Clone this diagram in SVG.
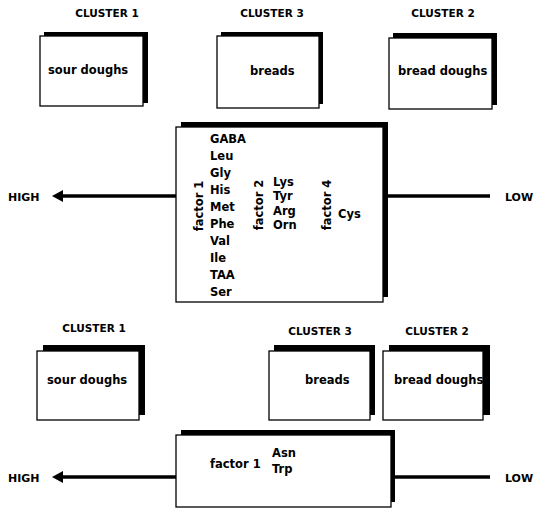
<svg xmlns="http://www.w3.org/2000/svg" width="540" height="509" viewBox="0 0 540 509">
<style>
text{font-family:"DejaVu Sans","Liberation Sans",sans-serif;font-weight:bold;fill:#000}
.cl{font-size:10.5px;text-anchor:middle}
.lb{font-size:11.5px}
.aa{font-size:11.5px}
.sh{fill:#000}
.fr{fill:#fff;stroke:#000;stroke-width:1.3}
.ln{stroke:#000;stroke-width:3.5;fill:none}
</style>
<defs>
<marker id="ah" markerWidth="10" markerHeight="10" refX="1" refY="5" orient="auto" markerUnits="userSpaceOnUse" viewBox="0 0 10 10">
<path d="M10,0 L0,5 L10,10 Z" fill="#000"/>
</marker>
</defs>
<rect width="540" height="509" fill="#fff"/>
<g id="connectors">
<line class="ln" x1="176" y1="196" x2="62" y2="196"/>
<path d="M63,190 L52,196 L63,202 Z" fill="#000"/>
<line class="ln" x1="388" y1="196" x2="490" y2="196"/>
<line class="ln" x1="176" y1="477" x2="62" y2="477"/>
<path d="M63,471 L52,477 L63,483 Z" fill="#000"/>
<line class="ln" x1="392" y1="477" x2="490" y2="477"/>
</g>
<g id="labels">
<text x="8" y="201" font-size="11">HIGH</text>
<text x="505" y="201" font-size="11">LOW</text>
<text x="8" y="482" font-size="11">HIGH</text>
<text x="505" y="482" font-size="11">LOW</text>
</g>
<g id="cluster1-top">
<text class="cl" x="107" y="17">CLUSTER 1</text>
<rect class="sh" x="44" y="32" width="104" height="71"/>
<rect class="fr" x="40" y="36" width="103" height="70"/>
<text class="lb" x="48" y="74">sour doughs</text>
</g>
<g id="cluster3-top">
<text class="cl" x="272" y="17">CLUSTER 3</text>
<rect class="sh" x="221" y="32" width="102" height="72"/>
<rect class="fr" x="217" y="36" width="102" height="72"/>
<text class="lb" x="250" y="75">breads</text>
</g>
<g id="cluster2-top">
<text class="cl" x="443" y="17">CLUSTER 2</text>
<rect class="sh" x="393" y="33" width="104" height="72"/>
<rect class="fr" x="389" y="38" width="103" height="71"/>
<text class="lb" x="398" y="75">bread doughs</text>
</g>
<g id="factors-top">
<rect class="sh" x="181" y="122" width="207" height="175"/>
<rect class="fr" x="176" y="127" width="207" height="175"/>
<text class="lb" transform="translate(203,206) rotate(-90)" text-anchor="middle">factor 1</text>
<g class="aa">
<text x="210" y="143">GABA</text>
<text x="210" y="160">Leu</text>
<text x="210" y="177">Gly</text>
<text x="210" y="194">His</text>
<text x="210" y="211">Met</text>
<text x="210" y="228">Phe</text>
<text x="210" y="245">Val</text>
<text x="210" y="262">Ile</text>
<text x="210" y="279">TAA</text>
<text x="210" y="296">Ser</text>
</g>
<text class="lb" transform="translate(263,205) rotate(-90)" text-anchor="middle">factor 2</text>
<g class="aa">
<text x="273" y="186">Lys</text>
<text x="273" y="200">Tyr</text>
<text x="273" y="215">Arg</text>
<text x="273" y="229">Orn</text>
</g>
<text class="lb" transform="translate(331,205) rotate(-90)" text-anchor="middle">factor 4</text>
<text class="aa" x="338" y="218">Cys</text>
</g>
<g id="cluster1-bottom">
<text class="cl" x="94" y="332">CLUSTER 1</text>
<rect class="sh" x="43" y="345" width="102" height="70"/>
<rect class="fr" x="37" y="351" width="102" height="69"/>
<text class="lb" x="47" y="384">sour doughs</text>
</g>
<g id="cluster3-bottom">
<text class="cl" x="320" y="335">CLUSTER 3</text>
<rect class="sh" x="274" y="345" width="101" height="70"/>
<rect class="fr" x="269" y="351" width="101" height="69"/>
<text class="lb" x="305" y="384">breads</text>
</g>
<g id="cluster2-bottom">
<text class="cl" x="437" y="335">CLUSTER 2</text>
<rect class="sh" x="389" y="345" width="101" height="70"/>
<rect class="fr" x="383" y="351" width="100" height="69"/>
<text class="lb" x="394" y="384">bread doughs</text>
</g>
<g id="factors-bottom">
<rect class="sh" x="181" y="430" width="214" height="72"/>
<rect class="fr" x="176" y="435" width="215" height="72"/>
<text class="lb" x="210" y="468">factor 1</text>
<text class="aa" x="272" y="457" font-size="10.5">Asn</text>
<text class="aa" x="272" y="473" font-size="10.5">Trp</text>
</g>
</svg>
